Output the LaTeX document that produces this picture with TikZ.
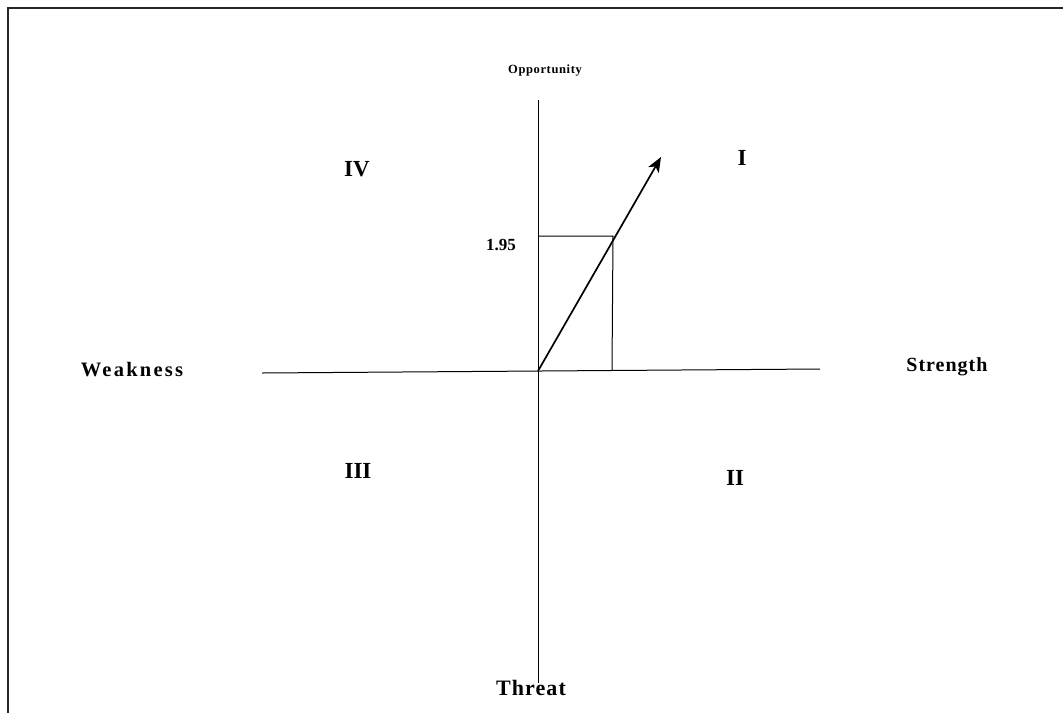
\documentclass[tikz,border=0pt]{standalone}
\usepackage{fontspec}
\setmainfont{Liberation Serif}
\newfontfamily\lblfont[LetterSpace=11]{Liberation Serif}
\newfontfamily\lblfontb[LetterSpace=5]{Liberation Serif}
\usetikzlibrary{arrows.meta}
\begin{document}
\begin{tikzpicture}[x=1pt,y=-1pt,
  axis/.style={line width=1pt,black},
  guide/.style={line width=1pt,black},
  vec/.style={line width=1.7pt,-{Stealth[length=15pt,width=12pt,inset=4pt]}},
  roman/.style={font=\fontsize{23}{26}\selectfont\bfseries},
  frame/.style={line width=2.2pt,black!85}]
\useasboundingbox (0,0) rectangle (1063,713);
% frame (top and left edges)
\coordinate (ftl) at (8,8);
\coordinate (ftr) at (1063,8);
\coordinate (fbl) at (8,713);
\draw[frame] (ftr) -- (ftl) -- (fbl);
% axes
\coordinate (O) at (538,371);
\coordinate (vtop) at (538,100);
\coordinate (vbot) at (538,683);
\coordinate (hl) at (262,373);
\coordinate (hr) at (820,369);
\draw[axis] (vtop) -- (vbot);
\draw[axis] (hl) -- (hr);
% guide rectangle
\coordinate (P) at (613,236);
\coordinate (Py) at (538,236);
\coordinate (Px) at (612,370);
\draw[guide] (Py) -- (P) -- (Px);
% vector
\coordinate (tip) at (661,157);
\draw[vec] (O) -- (tip);
% labels
\node[font=\fontsize{12.5}{14}\selectfont\bfseries\lblfontb] (opp) at (545,71) {Opportunity};
\node[font=\fontsize{17}{19}\selectfont\bfseries] (val) at (501,245) {1.95};
\node[font=\fontsize{20.5}{22}\selectfont\bfseries\lblfont] (weak) at (132,370) {Weakness};
\node[font=\fontsize{20}{22}\selectfont\bfseries\lblfontb] (str) at (947,367) {Strength};
\node[font=\fontsize{22}{24}\selectfont\bfseries\lblfontb] (thr) at (531,688) {Threat};
\node[roman] (q4) at (357,169) {IV};
\node[roman] (q1) at (742,158) {I};
\node[roman] (q3) at (358,471) {III};
\node[roman] (q2) at (735,478) {II};
\end{tikzpicture}
\end{document}
